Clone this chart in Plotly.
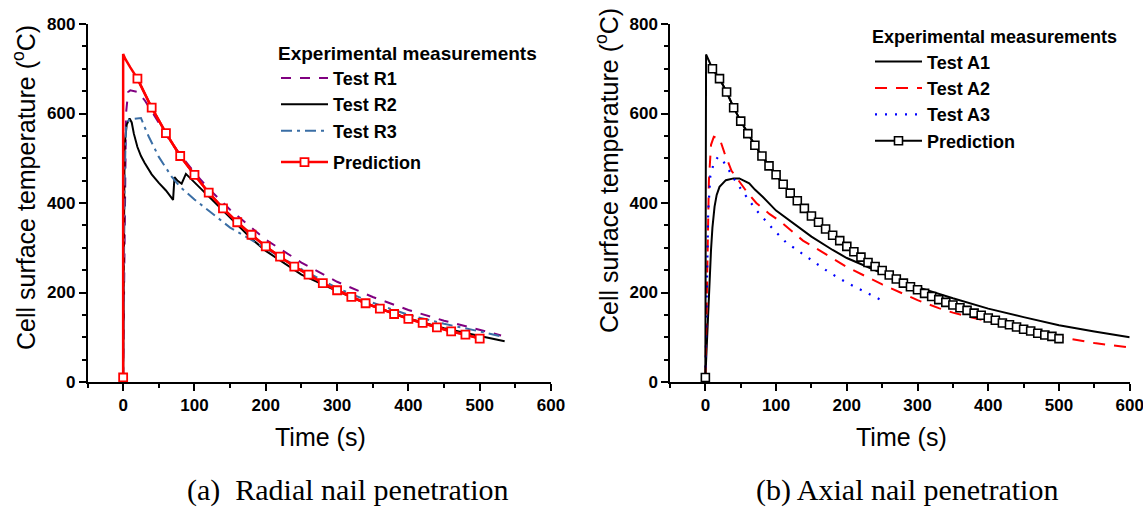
import plotly.graph_objects as go

# ---------------- (a) Radial nail penetration ----------------
r1_t = [0, 2, 4, 7, 10, 20, 30, 40, 50, 60, 70, 80, 100, 120, 150, 200, 250, 300, 350, 400, 450, 500, 530]
r1_v = [10, 400, 600, 648, 652, 648, 630, 605, 578, 553, 530, 508, 468, 432, 385, 318, 267, 224, 190, 161, 137, 116, 104]

r2_t = [0, 2, 5, 9, 12, 15, 20, 25, 30, 40, 50, 60, 70, 72, 76, 82, 88, 100, 120, 140, 160, 180, 200, 250, 300, 350, 400, 450, 500, 535]
r2_v = [10, 530, 575, 589, 580, 555, 525, 505, 490, 464, 445, 428, 407, 458, 450, 443, 465, 446, 413, 382, 350, 320, 293, 240, 203, 170, 142, 120, 103, 91]

r3_t = [0, 2, 4, 8, 15, 25, 30, 36, 50, 68, 80, 100, 150, 200, 250, 300, 350, 400, 450, 500, 530]
r3_v = [10, 450, 570, 585, 588, 590, 570, 548, 503, 459, 436, 408, 345, 298, 252, 210, 177, 150, 130, 113, 102]

pa_t = [0, 0, 3, 5, 10, 20, 40, 60, 80, 100, 120, 140, 160, 180, 200, 220, 240, 260, 280, 300,
        320, 340, 360, 380, 400, 420, 440, 460, 480, 500]
pa_v = [10, 733, 722, 716, 703, 678, 613, 556, 505, 463, 423, 388, 357, 329, 303, 280, 258, 240, 221, 205,
        190, 176, 164, 152, 141, 132, 122, 113, 106, 97]

# ---------------- (b) Axial nail penetration ----------------
a1_t = [0, 3, 5, 8, 10, 13, 16, 20, 29, 40, 48, 58, 62, 70, 81, 100, 125, 150, 180, 200, 250, 300, 350, 400, 450, 500, 550, 600]
a1_v = [10, 120, 220, 295, 345, 392, 418, 436, 451, 455, 455, 447, 444, 430, 414, 383, 355, 325, 295, 277, 243, 212, 187, 164, 145, 127, 113, 100]

a2_t = [0, 3, 5, 8, 12, 20, 27, 37, 50, 60, 72, 91, 105, 138, 150, 200, 250, 300, 330, 350, 400, 450, 500, 550, 600]
a2_v = [10, 300, 450, 530, 548, 545, 512, 472, 445, 422, 400, 375, 360, 316, 305, 257, 218, 183, 165, 155, 135, 118, 101, 87, 77]

a3_t = [0, 2, 4, 7, 12, 18, 22, 29, 40, 53, 72, 95, 114, 125, 150, 175, 200, 225, 250]
a3_v = [10, 200, 380, 460, 490, 503, 500, 485, 455, 425, 384, 343, 312, 300, 272, 245, 222, 202, 182]

pb_t = [0, 1, 10, 20, 30, 40, 50, 60, 70, 80, 90, 100, 110, 120, 130, 140, 150, 160, 170, 180, 190, 200,
        210, 220, 230, 240, 250, 260, 270, 280, 290, 300, 310, 320, 330, 340, 350, 360, 370, 380, 390, 400,
        410, 420, 430, 440, 450, 460, 470, 480, 490, 500]
pb_v = [10, 732, 700, 678, 648, 613, 583, 555, 529, 505, 483, 463, 442, 422, 405, 388, 371, 357, 342, 328, 316, 303,
        291, 279, 267, 258, 249, 239, 230, 221, 213, 206, 198, 191, 184, 178, 172, 166, 160, 154, 149, 143,
        138, 132, 128, 123, 118, 114, 109, 105, 102, 97]

x_ticks = [0, 100, 200, 300, 400, 500, 600]
y_ticks = [0, 200, 400, 600, 800]

W, H = 1143, 507
FONT = "Liberation Sans"


def px(x):
    return x / W


def py(y):
    return (H - y) / H


def marker_points(t, v, step):
    """Points that carry a square symbol: the first one and every `step` seconds after 0."""
    xs, ys = [], []
    for i, (a, b) in enumerate(zip(t, v)):
        if i == 0:
            xs += [a, None]
            ys += [b, None]
        elif a > 0 and a % step == 0:
            xs.append(a)
            ys.append(b)
    return xs, ys


fig = go.Figure()

# Left panel
fig.add_trace(go.Scatter(x=r1_t, y=r1_v, mode="lines", name="Test R1",
                         line=dict(color="#800080", width=2, dash="10px,9px"),
                         legend="legend", legendgroup="exp", xaxis="x", yaxis="y"))
fig.add_trace(go.Scatter(x=r2_t, y=r2_v, mode="lines", name="Test R2",
                         line=dict(color="black", width=2),
                         legend="legend", legendgroup="exp", xaxis="x", yaxis="y"))
fig.add_trace(go.Scatter(x=r3_t, y=r3_v, mode="lines", name="Test R3",
                         line=dict(color="#3a6ea5", width=2, dash="11px,5px,3px,5px"),
                         legend="legend", legendgroup="exp", xaxis="x", yaxis="y"))
fig.add_trace(go.Scatter(x=pa_t, y=pa_v, mode="lines", showlegend=False,
                         line=dict(color="#ff0000", width=2.5),
                         legendgroup="pred", xaxis="x", yaxis="y"))
mx, my = marker_points(pa_t, pa_v, 20)
fig.add_trace(go.Scatter(x=mx, y=my, mode="lines+markers", name="Prediction",
                         line=dict(color="#ff0000", width=2.5),
                         marker=dict(symbol="square", size=8, color="white",
                                     line=dict(color="#ff0000", width=1.8)),
                         connectgaps=False,
                         legend="legend", legendgroup="pred", xaxis="x", yaxis="y"))

# Right panel
fig.add_trace(go.Scatter(x=a1_t, y=a1_v, mode="lines", name="Test A1",
                         line=dict(color="black", width=2),
                         legend="legend2", xaxis="x2", yaxis="y2"))
fig.add_trace(go.Scatter(x=a2_t, y=a2_v, mode="lines", name="Test A2",
                         line=dict(color="#ff0000", width=2, dash="12px,9px"),
                         legend="legend2", xaxis="x2", yaxis="y2"))
fig.add_trace(go.Scatter(x=a3_t, y=a3_v, mode="lines", name="Test A3",
                         line=dict(color="#0000ff", width=2.2, dash="2px,8px"),
                         legend="legend2", xaxis="x2", yaxis="y2"))
fig.add_trace(go.Scatter(x=pb_t, y=pb_v, mode="lines", showlegend=False,
                         line=dict(color="black", width=2),
                         xaxis="x2", yaxis="y2"))
mx, my = marker_points(pb_t, pb_v, 10)
fig.add_trace(go.Scatter(x=mx, y=my, mode="lines+markers", name="Prediction",
                         line=dict(color="black", width=2),
                         marker=dict(symbol="square", size=8, color="white",
                                     line=dict(color="black", width=1.6)),
                         connectgaps=False,
                         legend="legend2", xaxis="x2", yaxis="y2"))

tickfont = dict(family=FONT, size=17, color="black", weight="bold")


def common_axis(vals):
    return dict(tickmode="array", tickvals=vals, ticktext=[f"<b>{v}</b>" for v in vals],
                showline=True, linecolor="black", linewidth=1.5, ticks="outside", ticklen=7,
                tickwidth=1.5, tickcolor="black", showgrid=False, zeroline=False,
                tickfont=tickfont, automargin=False, ticklabeloverflow="allow",
                minor=dict(dtick=50, tick0=0, ticks="outside", ticklen=4, tickwidth=1.5,
                           tickcolor="black", showgrid=False))


def xax(domain, anchor):
    d = common_axis(x_ticks)
    d.update(domain=domain, anchor=anchor, range=[-50, 600])
    return d


def yax(anchor):
    d = common_axis(y_ticks)
    d.update(domain=[py(382), py(24)], anchor=anchor, range=[0, 800])
    return d


ann = []
ytitle = "Cell surface temperature (<sup>o</sup>C)"
for xx, yy in [(24, 188), (607, 171)]:
    ann.append(dict(text=ytitle, x=px(xx), y=py(yy), xref="paper", yref="paper",
                    textangle=-90, showarrow=False, xanchor="center", yanchor="middle",
                    font=dict(family=FONT, size=25, color="black")))
for xx in [320, 901]:
    ann.append(dict(text="Time (s)", x=px(xx), y=py(437), xref="paper", yref="paper",
                    showarrow=False, xanchor="center", yanchor="middle",
                    font=dict(family=FONT, size=25, color="black")))
for xx, txt in [(348, "(a)  Radial nail penetration"), (907, "(b) Axial nail penetration")]:
    ann.append(dict(text=txt, x=px(xx), y=py(490), xref="paper", yref="paper",
                    showarrow=False, xanchor="center", yanchor="middle",
                    font=dict(family="Liberation Serif", size=30, color="black")))

legtitle = dict(family=FONT, size=19, color="black", weight="bold")
legfont = dict(family=FONT, size=18, color="black", weight="bold")
legfont2 = dict(family=FONT, size=18, color="black", weight="bold")

fig.update_layout(
    width=W, height=H, template="none",
    margin=dict(l=0, r=0, t=0, b=0),
    paper_bgcolor="white", plot_bgcolor="white",
    xaxis=xax([px(87.5), px(551)], "y"),
    yaxis=yax("x"),
    xaxis2=xax([px(670), px(1129.7)], "y2"),
    yaxis2=yax("x2"),
    legend=dict(x=px(276), y=py(35), xanchor="left", yanchor="top",
                title=dict(text="Experimental measurements", font=legtitle),
                font=legfont, bgcolor="rgba(0,0,0,0)", borderwidth=0,
                tracegroupgap=5, itemwidth=47, traceorder="grouped"),
    legend2=dict(x=px(870), y=py(20), xanchor="left", yanchor="top",
                 title=dict(text="Experimental measurements", font=legfont2),
                 font=legfont2, bgcolor="rgba(0,0,0,0)", borderwidth=0,
                 itemwidth=47),
    annotations=ann,
    showlegend=True,
)

fig.write_html("out.html")
